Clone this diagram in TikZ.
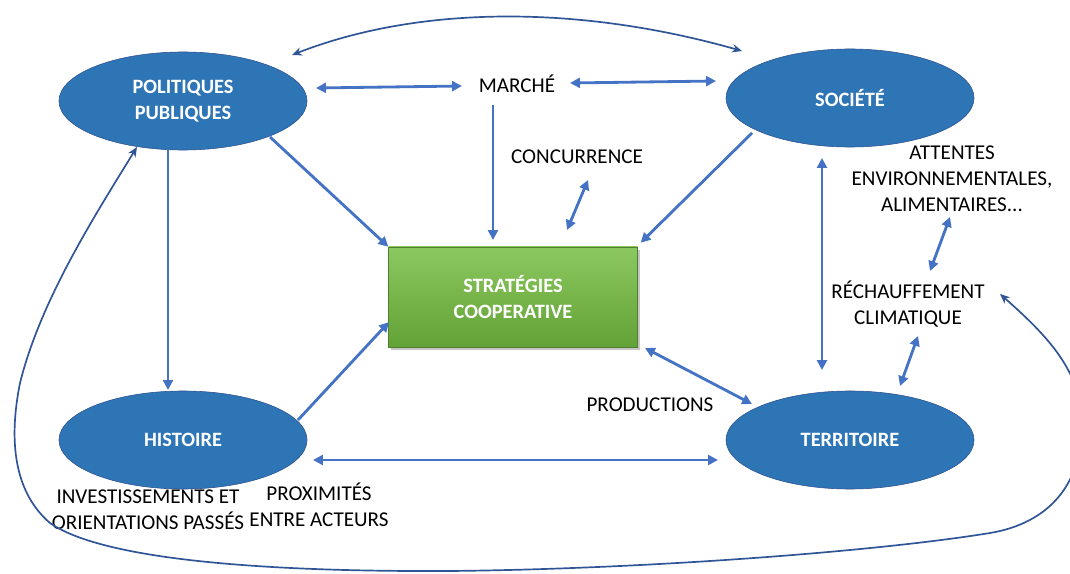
\documentclass[tikz,border=0pt]{standalone}
\usepackage{fontspec}
\setmainfont{Carlito}
\usetikzlibrary{arrows.meta,shapes.geometric,shadows}
\definecolor{bubbleblue}{RGB}{46,117,182}
\definecolor{bubbleline}{RGB}{47,82,143}
\definecolor{linkblue}{RGB}{68,114,196}
\definecolor{loopblue}{RGB}{47,85,151}
\definecolor{coretop}{RGB}{140,200,96}
\definecolor{corebottom}{RGB}{98,162,54}
\definecolor{coreline}{RGB}{80,126,50}
\begin{document}
\begin{tikzpicture}
[
x=0.025cm, y=0.025cm,
Bubble/.style={ellipse, draw=bubbleline, fill=bubbleblue, thin, minimum width=6.2cm, minimum height=2.45cm, inner sep=0pt, text=white, font=\fontsize{14.5}{18.5}\selectfont\bfseries, align=center},
Core/.style={rectangle, draw=coreline, top color=coretop, bottom color=corebottom, thin, minimum width=6.22cm, minimum height=2.5cm, text=white, font=\fontsize{14.5}{18.5}\selectfont\bfseries, align=center, drop shadow={shadow xshift=2pt, shadow yshift=-2pt, opacity=0.45}},
Label/.style={font=\fontsize{15}{18.5}\selectfont, align=center, inner sep=0pt},
Link/.style={draw=linkblue, line width=2pt, -{Triangle[length=7pt,width=7pt]}},
Twoway/.style={Link, {Triangle[length=7pt,width=7pt]}-{Triangle[length=7pt,width=7pt]}},
Loop/.style={draw=loopblue, line width=1.2pt, {Stealth[length=7pt,width=6pt]}-{Stealth[length=7pt,width=6pt]}}
]
\useasboundingbox (0,0) rectangle (1070,573);

\node[Bubble] (pp)  at (183,472) {POLITIQUES\\PUBLIQUES};
\node[Bubble] (soc) at (850,475) {SOCIÉTÉ};
\node[Bubble] (his) at (183,133) {HISTOIRE};
\node[Bubble] (ter) at (850,133) {TERRITOIRE};
\node[Core]   (strat) at (513,276) {STRATÉGIES\\COOPERATIVE};

\node[Label] (marche) at (517,489) {MARCHÉ};
\node[Label] (conc)   at (577,416) {CONCURRENCE};
\node[Label] (att)    at (952,394) {ATTENTES\\ENVIRONNEMENTALES,\\ALIMENTAIRES...};
\node[Label] (rech)   at (908,269) {RÉCHAUFFEMENT\\CLIMATIQUE};
\node[Label] (prod)   at (650,168) {PRODUCTIONS};
\node[Label] (inv)    at (148,63)  {INVESTISSEMENTS ET\\ORIENTATIONS PASSÉS};
\node[Label] (prox)   at (319,68)  {PROXIMITÉS\\ENTRE ACTEURS};

\draw [Loop] ([shift={(109,46)}]pp.center) .. controls +(128,50) and +(-162,46) .. ([shift={(-108,47)}]soc.center);
\draw [Twoway] ([shift={(133,13)}]pp.center) -- ([shift={(-55,-2)}]marche.center);
\draw [Twoway] ([shift={(53,1)}]marche.center) -- ([shift={(-134,17)}]soc.center);
\draw [Link] ([shift={(-24,-21)}]marche.center) -- ([shift={(-20,57)}]strat.center);
\draw [Twoway] ([shift={(11,-23)}]conc.center) -- ([shift={(54,67)}]strat.center);
\draw [Link] ([shift={(87,-36)}]pp.center) -- (strat.north west);
\draw [Link] ([shift={(-98,-35)}]soc.center) -- ([shift={(3,4)}]strat.north east);
\draw [Link] ([shift={(-15,-49)}]pp.center) -- ([shift={(-15,50)}]his.center);
\draw [Link] ([shift={(115,20)}]his.center) -- ([shift={(-124,-25)}]strat.center);
\draw [Twoway] ([shift={(130,-20)}]his.center) -- ([shift={(-132,-20)}]ter.center);
\draw [Twoway] ([shift={(132,-51)}]strat.center) -- ([shift={(-98,36)}]ter.center);
\draw [Twoway] ([shift={(-28,-60)}]soc.center) -- ([shift={(-28,70)}]ter.center);
\draw [Twoway] ([shift={(-2,-38)}]att.center) -- ([shift={(22,33)}]rech.center);
\draw [Twoway] ([shift={(10,-32)}]rech.center) -- ([shift={(50,54)}]ter.center);

% grande boucle
\draw [Loop] ([shift={(92,10)}]rech.center) .. controls (1050,235) and (1082,200) .. (1082,148)
  .. controls (1082,90) and (1050,50) .. (990,40)
  .. controls (880,22) and (650,4) .. (450,2)
  .. controls (250,1) and (100,15) .. (50,50)
  .. controls (15,80) and (8,130) .. (20,190)
  .. controls (40,270) and (90,350) .. ([shift={(-46,-46)}]pp.center);
\end{tikzpicture}
\end{document}
